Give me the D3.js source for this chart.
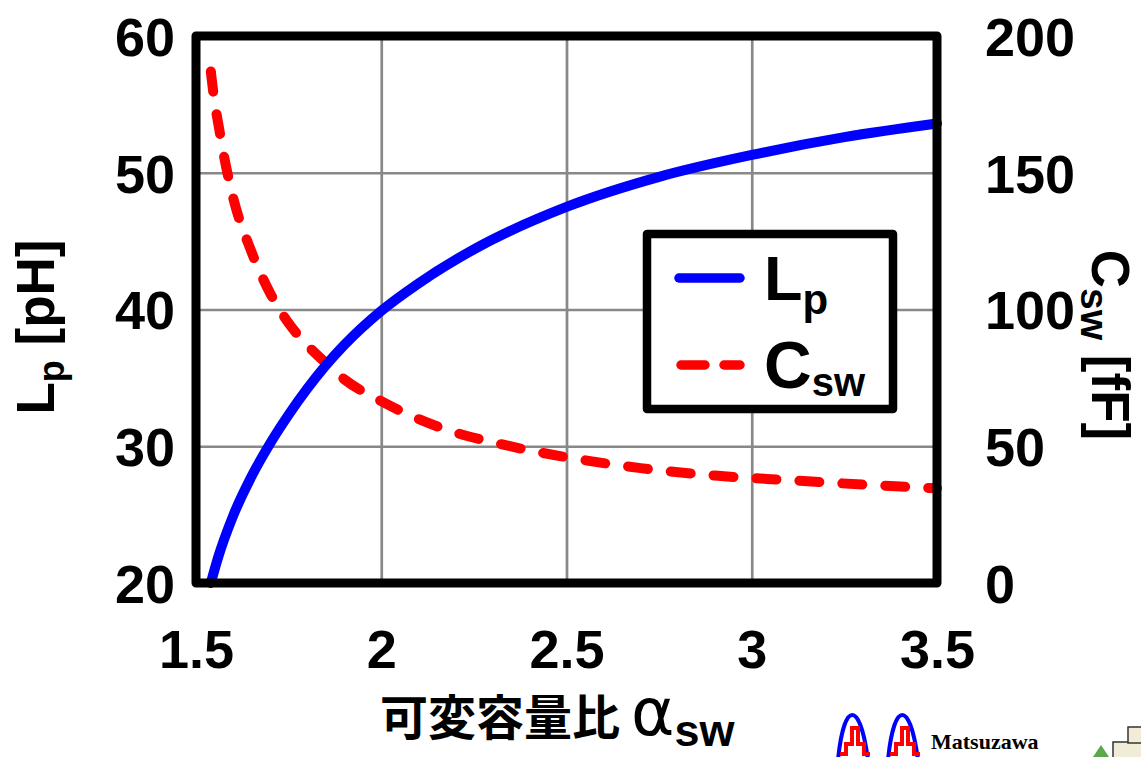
<!DOCTYPE html>
<html>
<head>
<meta charset="utf-8">
<script src="https://cdn.jsdelivr.net/npm/d3@7"></script>
<style>
  body { margin: 0; background: #fff; }
  svg { display: block; }
  text { font-family: "Liberation Sans", Arial, sans-serif; font-weight: bold; fill: #000; }
</style>
</head>
<body>
<div id="chart"></div>
<script>
// values
var lpAlpha = [1.54, 1.56, 1.6, 1.65, 1.7, 1.75, 1.8, 1.85, 1.9, 2.0, 2.1, 2.25, 2.5, 2.75, 3.0, 3.25, 3.5];
var lpValue = [20.0, 21.9, 24.9, 27.8, 30.2, 32.3, 34.2, 35.9, 37.4, 39.9, 41.9, 44.4, 47.5, 49.7, 51.3, 52.6, 53.6];

var cswAlpha = [1.54, 1.55, 1.56, 1.58, 1.6, 1.65, 1.7, 1.75, 1.8, 1.85, 1.9, 2.0, 2.1, 2.2, 2.3, 2.4, 2.5, 2.7, 2.9, 3.1, 3.3, 3.5];
var cswValue = [187, 176, 168, 153, 141, 121, 106, 95, 87, 80.5, 74.5, 66.5, 60, 55, 51.5, 48.5, 46, 42, 39.3, 37.6, 36, 34.6];

var xTicks = [1.5, 2, 2.5, 3, 3.5];
var yLeftTicks = [20, 30, 40, 50, 60];
var yRightTicks = [0, 50, 100, 150, 200];

(function() {
  var W = 1141, H = 757;
  var plotL = 196, plotR = 937, plotT = 36, plotB = 583;

  var svg = d3.select('#chart').append('svg')
      .attr('width', W)
      .attr('height', H);

  var x = d3.scaleLinear().domain([1.5, 3.5]).range([plotL, plotR]);
  var yL = d3.scaleLinear().domain([20, 60]).range([plotB, plotT]);
  var yR = d3.scaleLinear().domain([0, 200]).range([plotB, plotT]);

  function boldText(g) {
    g.selectAll('text').attr('font-size', 54)
      .style('font-family', '"Liberation Sans", Arial, sans-serif')
      .style('font-weight', 'bold')
      .attr('fill', '#000');
  }

  // grid
  svg.append('g')
      .attr('transform', 'translate(0,' + plotB + ')')
      .call(d3.axisBottom(x).tickValues(xTicks).tickSize(-(plotB - plotT)).tickFormat(''))
      .call(function(g) {
        g.select('.domain').remove();
        g.selectAll('line').attr('stroke', '#888').attr('stroke-width', 2.7);
      });
  svg.append('g')
      .attr('transform', 'translate(' + plotL + ',0)')
      .call(d3.axisLeft(yL).tickValues(yLeftTicks).tickSize(-(plotR - plotL)).tickFormat(''))
      .call(function(g) {
        g.select('.domain').remove();
        g.selectAll('line').attr('stroke', '#888').attr('stroke-width', 2.7);
      });

  // tick labels
  svg.append('g')
      .attr('transform', 'translate(0,' + plotB + ')')
      .call(d3.axisBottom(x).tickValues(xTicks).tickSize(0).tickPadding(0).tickFormat(d3.format('')))
      .call(function(g) {
        g.select('.domain').remove();
        boldText(g);
        g.selectAll('text').attr('y', 85).attr('dy', 0);
      });
  svg.append('g')
      .attr('transform', 'translate(' + plotL + ',0)')
      .call(d3.axisLeft(yL).tickValues(yLeftTicks).tickSize(0).tickPadding(21))
      .call(function(g) {
        g.select('.domain').remove();
        boldText(g);
        g.selectAll('text').attr('dy', '0.36em');
      });
  svg.append('g')
      .attr('transform', 'translate(' + plotR + ',0)')
      .call(d3.axisRight(yR).tickValues(yRightTicks).tickSize(0).tickPadding(48))
      .call(function(g) {
        g.select('.domain').remove();
        boldText(g);
        g.selectAll('text').attr('dy', '0.36em');
      });

  // curves
  var lpLine = d3.line()
      .x(function(d, i) { return x(lpAlpha[i]); })
      .y(function(d) { return yL(d); })
      .curve(d3.curveMonotoneX);
  var cswLine = d3.line()
      .x(function(d, i) { return x(cswAlpha[i]); })
      .y(function(d) { return yR(d); })
      .curve(d3.curveMonotoneX);

  svg.append('path')
      .datum(cswValue)
      .attr('d', cswLine)
      .attr('fill', 'none')
      .attr('stroke', '#ff0000')
      .attr('stroke-width', 10)
      .attr('stroke-linecap', 'round')
      .attr('stroke-dasharray', '20,23');

  svg.append('path')
      .datum(lpValue)
      .attr('d', lpLine)
      .attr('fill', 'none')
      .attr('stroke', '#0000ff')
      .attr('stroke-width', 10)
      .attr('stroke-linecap', 'round');

  // frame
  svg.append('rect')
      .attr('x', plotL).attr('y', plotT)
      .attr('width', plotR - plotL).attr('height', plotB - plotT)
      .attr('fill', 'none')
      .attr('stroke', '#000')
      .attr('stroke-width', 9)
      .attr('stroke-linejoin', 'round');

  // legend
  var lg = svg.append('g');
  lg.append('rect')
      .attr('x', 647).attr('y', 234)
      .attr('width', 246).attr('height', 175)
      .attr('fill', '#fff')
      .attr('stroke', '#000')
      .attr('stroke-width', 8.5)
      .attr('stroke-linejoin', 'round');
  lg.append('line')
      .attr('x1', 679).attr('x2', 740).attr('y1', 278).attr('y2', 278)
      .attr('stroke', '#0000ff').attr('stroke-width', 9.5).attr('stroke-linecap', 'round');
  lg.append('line')
      .attr('x1', 681).attr('x2', 740).attr('y1', 365).attr('y2', 365)
      .attr('stroke', '#ff0000').attr('stroke-width', 9.5).attr('stroke-linecap', 'round')
      .attr('stroke-dasharray', '24,19');
  var t1 = lg.append('text').attr('x', 764).attr('y', 300).attr('font-size', 63);
  t1.append('tspan').text('L');
  t1.append('tspan').attr('font-size', 42).attr('dy', 14).text('p');
  var t2 = lg.append('text').attr('x', 764).attr('y', 388).attr('font-size', 66);
  t2.append('tspan').text('C');
  t2.append('tspan').attr('font-size', 40).attr('dy', 8).text('sw');

  // axis titles
  var yt = svg.append('text')
      .attr('transform', 'translate(54,327) rotate(-90)')
      .attr('text-anchor', 'middle')
      .attr('font-size', 53);
  yt.append('tspan').text('L');
  yt.append('tspan').attr('font-size', 36).attr('dy', 10).text('p');
  yt.append('tspan').attr('dy', -10).text(' [pH]');

  var yt2 = svg.append('text')
      .attr('transform', 'translate(1092,345) rotate(90)')
      .attr('text-anchor', 'middle')
      .attr('font-size', 53);
  yt2.append('tspan').text('C');
  yt2.append('tspan').attr('font-size', 39).attr('dy', 11).text('sw');
  yt2.append('tspan').attr('dy', -11).text(' [fF]');

  var xt = svg.append('text')
      .attr('x', 380).attr('y', 735)
      .attr('font-size', 48);
  xt.append('tspan').style('font-family', '"Noto Sans CJK JP", sans-serif').style('font-weight', 'bold').text('可変容量比 ');
  xt.append('tspan').style('font-family', '"DejaVu Sans", sans-serif').style('font-weight', 'normal').attr('font-size', 66).text('α');
  xt.append('tspan').attr('font-size', 45).attr('dy', 11).text('sw');

  // lab logo (bottom right, cropped)
  var logo = svg.append('g');
  [838, 888].forEach(function(ox) {
    logo.append('path')
        .attr('d', 'M' + ox + ',760 C' + (ox + 6) + ',700 ' + (ox + 22) + ',700 ' + (ox + 30) + ',760')
        .attr('fill', 'none').attr('stroke', '#0000ff').attr('stroke-width', 4);
    logo.append('path')
        .attr('d', 'M' + (ox + 2) + ',754 h6 v-10 h6 v-16 h6 v16 h6 v10 h6')
        .attr('fill', 'none').attr('stroke', '#ff0000').attr('stroke-width', 4);
  });
  logo.append('text')
      .attr('x', 931).attr('y', 749)
      .attr('font-size', 22)
      .style('font-family', '"Liberation Serif", "DejaVu Serif", serif')
      .style('font-weight', 'bold')
      .text('Matsuzawa');
  logo.append('text')
      .attr('x', 931).attr('y', 773)
      .attr('font-size', 22)
      .style('font-family', '"Liberation Serif", "DejaVu Serif", serif')
      .style('font-weight', 'bold')
      .text('& Okada Lab.');
  logo.append('path')
      .attr('d', 'M1093,757 L1101,745 L1109,757 Z')
      .attr('fill', '#5aa84a');
  logo.append('rect')
      .attr('x', 1113).attr('y', 742).attr('width', 30).attr('height', 16)
      .attr('fill', '#f0ecd8').attr('stroke', '#333').attr('stroke-width', 1.5);
  logo.append('rect')
      .attr('x', 1128).attr('y', 727).attr('width', 14).attr('height', 16)
      .attr('fill', '#f0ecd8').attr('stroke', '#333').attr('stroke-width', 1.5);
})();
</script>
</body>
</html>
